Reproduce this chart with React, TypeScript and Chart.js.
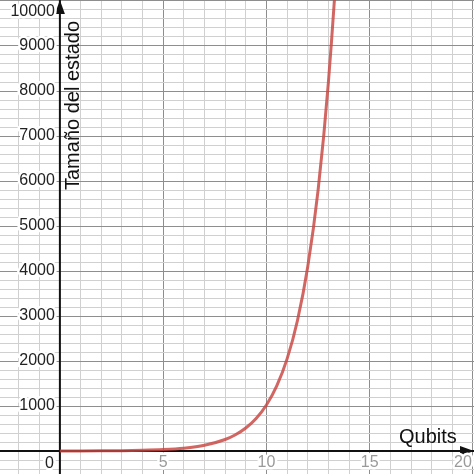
import { useEffect, useRef } from "react";
import { Chart, registerables } from "chart.js";

Chart.register(...registerables);

// values: state size doubles with every qubit
const qubits = [0, 1, 2, 3, 4, 5, 6, 7, 8, 8.5, 9, 9.5, 10, 10.5, 11, 11.5, 12, 12.5, 13, 13.5, 14];
const stateSize = [1, 2, 4, 8, 16, 32, 64, 128, 256, 362, 512, 724, 1024, 1448, 2048, 2896, 4096, 5793, 8192, 11585, 16384];

const xLabels = [5, 10, 15, 20];
const yLabels = [1000, 2000, 3000, 4000, 5000, 6000, 7000, 8000, 9000, 10000];

const FONT = '"Liberation Sans", Arial, sans-serif';
const MINOR = "#d0d0d0";
const MAJOR = "#8e8e8e";
const AXIS = "#111";

// axis lines go under the curve, labels and arrows on top
const axesPlugin = {
  id: "desmosAxes",
  beforeDatasetsDraw(chart) {
    const { ctx, scales } = chart;
    const ox = scales.x.getPixelForValue(0);
    const oy = scales.y.getPixelForValue(0);
    ctx.save();
    ctx.strokeStyle = AXIS;
    ctx.lineWidth = 2;
    ctx.beginPath();
    ctx.moveTo(ox, 0);
    ctx.lineTo(ox, chart.height);
    ctx.moveTo(0, oy);
    ctx.lineTo(chart.width, oy);
    ctx.stroke();
    ctx.restore();
  },
  afterDraw(chart) {
    const { ctx, scales } = chart;
    const x = scales.x;
    const y = scales.y;
    const ox = x.getPixelForValue(0);
    const oy = y.getPixelForValue(0);
    const W = chart.width;

    ctx.save();

    // arrows
    ctx.fillStyle = AXIS;
    ctx.beginPath();
    ctx.moveTo(ox, 0);
    ctx.lineTo(ox - 5, 14);
    ctx.lineTo(ox + 5, 14);
    ctx.closePath();
    ctx.fill();
    ctx.beginPath();
    ctx.moveTo(W, oy);
    ctx.lineTo(W - 14, oy - 5);
    ctx.lineTo(W - 14, oy + 5);
    ctx.closePath();
    ctx.fill();

    const label = (text, px, py, align, color) => {
      ctx.textAlign = align;
      ctx.textBaseline = "middle";
      ctx.lineJoin = "round";
      ctx.lineWidth = 5;
      ctx.strokeStyle = "#fff";
      ctx.strokeText(text, px, py);
      ctx.fillStyle = color;
      ctx.fillText(text, px, py);
    };

    ctx.font = `16px ${FONT}`;
    yLabels.forEach((v) => {
      const py = Math.max(y.getPixelForValue(v), 12);
      label(String(v), ox - 5, py, "right", "#222");
    });
    xLabels.forEach((v) => {
      const px = Math.min(x.getPixelForValue(v), W - 11);
      label(String(v), px, oy + 12, "center", "#9a9a9a");
    });
    label("0", ox - 6, oy + 13, "right", "#222");

    // axis titles
    ctx.font = `20px ${FONT}`;
    ctx.fillStyle = "#111";
    ctx.textAlign = "left";
    ctx.textBaseline = "alphabetic";
    ctx.fillText("Qubits", 399, oy - 8);

    ctx.translate(ox + 19, 190);
    ctx.rotate(-Math.PI / 2);
    ctx.fillText("Tamaño del estado", 0, 0);

    ctx.restore();
  },
};

function gridColor(major: number) {
  return (c) => {
    const v = c.tick ? c.tick.value : NaN;
    return Math.abs(Math.round(v / major) * major - v) < 1e-6 ? MAJOR : MINOR;
  };
}

export default function App() {
  const canvasRef = useRef(null);
  const chartRef = useRef(null);

  useEffect(() => {
    document.body.style.margin = "0";
    const ctx = canvasRef.current.getContext("2d");
    if (chartRef.current) chartRef.current.destroy();

    chartRef.current = new Chart(ctx, {
      type: "line",
      data: {
        datasets: [
          {
            label: "Tamaño del estado",
            data: qubits.map((q, i) => ({ x: q, y: stateSize[i] })),
            borderColor: "rgba(199, 68, 64, 0.82)",
            borderWidth: 3,
            pointRadius: 0,
            cubicInterpolationMode: "monotone",
            fill: false,
          },
        ],
      },
      options: {
        responsive: false,
        animation: false,
        layout: { padding: 0 },
        plugins: { legend: { display: false }, tooltip: { enabled: false } },
        scales: {
          x: {
            type: "linear",
            min: -2.9,
            max: 20.05,
            border: { display: false },
            ticks: { display: false, stepSize: 1, includeBounds: false, autoSkip: false },
            grid: { drawTicks: false, color: gridColor(5), lineWidth: 1 },
          },
          y: {
            type: "linear",
            min: -510,
            max: 10022,
            border: { display: false },
            ticks: { display: false, stepSize: 200, includeBounds: false, autoSkip: false },
            grid: { drawTicks: false, color: gridColor(1000), lineWidth: 1 },
          },
        },
      },
      plugins: [axesPlugin],
    });

    return () => chartRef.current?.destroy();
  }, []);

  return (
    <div style={{ position: "fixed", left: 0, top: 0, width: 474, height: 474, background: "#fff" }}>
      <canvas ref={canvasRef} width={474} height={474}></canvas>
    </div>
  );
}
